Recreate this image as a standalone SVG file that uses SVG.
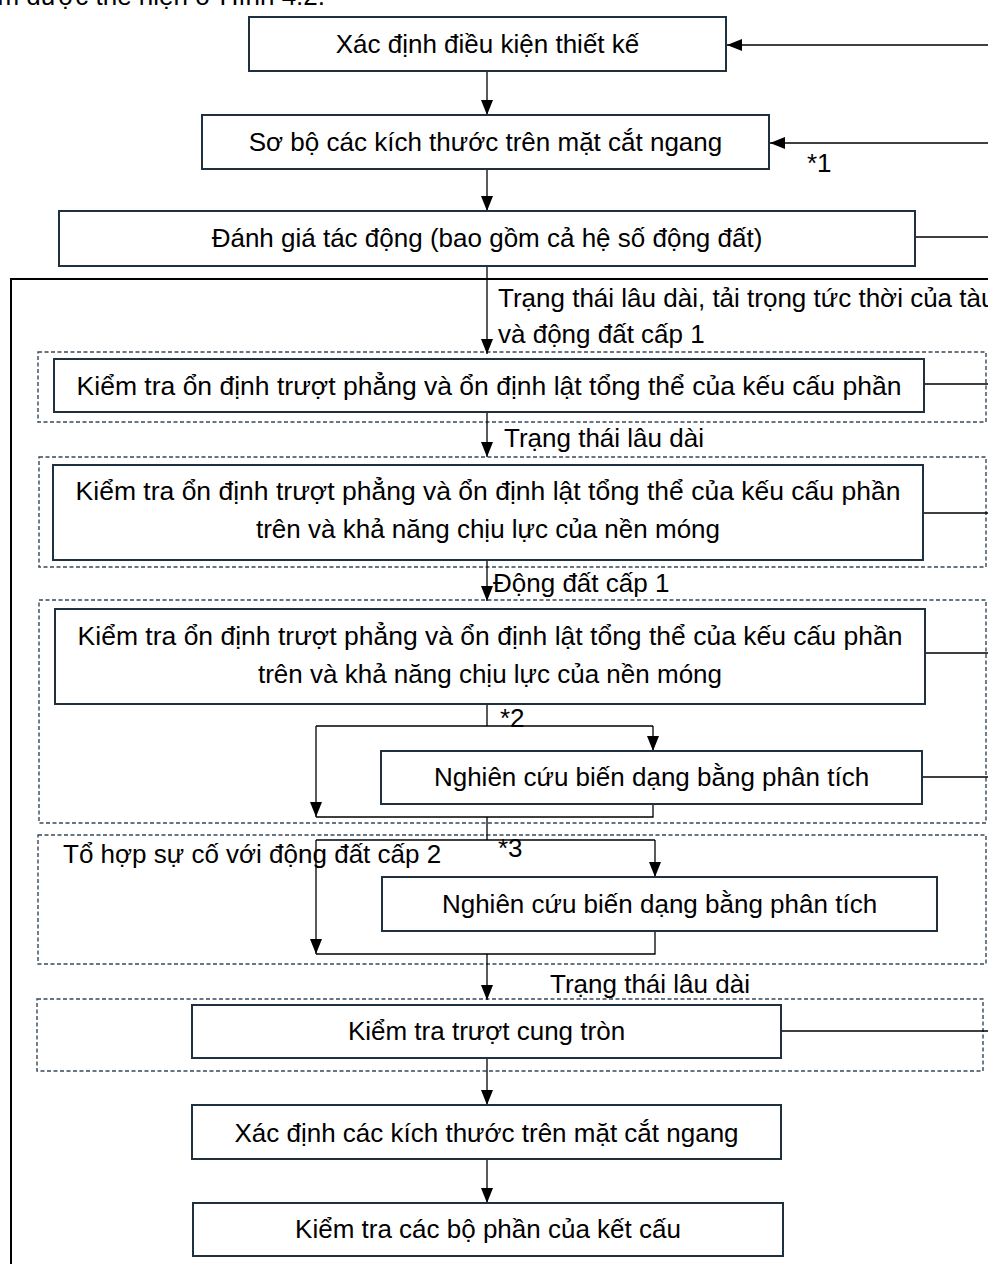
<svg xmlns="http://www.w3.org/2000/svg" width="988" height="1264" viewBox="0 0 988 1264">
<style>
text{font-family:"Liberation Sans",Arial,sans-serif;font-size:26px;fill:#000}
.c{text-anchor:middle}
.w{font-size:26.5px}
.box{fill:#fff;stroke:#1f3040;stroke-width:2}
.dash{fill:none;stroke:#34495a;stroke-width:1.4;stroke-dasharray:4 2.5}
.ln{fill:none;stroke:#000;stroke-width:1.3}
.ar{fill:none;stroke:#000;stroke-width:1.3;marker-end:url(#ah)}
.outer{fill:none;stroke:#000;stroke-width:2}
</style>
<defs>
<marker id="ah" markerUnits="userSpaceOnUse" markerWidth="16" markerHeight="12" refX="15" refY="6" orient="auto">
<path d="M0,0 L15,6 L0,12 z" fill="#000"/>
</marker>
</defs>
<rect width="988" height="1264" fill="#fff"/>
<text x="325" y="5" text-anchor="end">ìm được thể hiện ở Hình 4.2.</text>

<g id="frames">
<path class="outer" d="M11,1264 V279 H988"/>
<rect id="zone1" class="dash" x="38" y="352" width="948" height="70"/>
<rect id="zone2" class="dash" x="39" y="457" width="947" height="110"/>
<rect id="zone3" class="dash" x="39" y="600" width="947" height="223"/>
<rect id="zone4" class="dash" x="38" y="835" width="948" height="129"/>
<rect id="zone5" class="dash" x="37" y="999" width="946" height="72"/>
</g>

<g id="connectors">
<path class="ar" d="M487,71 V115"/>
<path class="ar" d="M487,169 V211"/>
<path class="ar" d="M487,266 V354"/>
<path class="ar" d="M487,412 V457"/>
<path class="ar" d="M487,560 V601"/>
<path class="ln" d="M487,704 V726 M316,726 H653"/>
<path class="ar" d="M653,726 V751"/>
<path class="ar" d="M316,726 V817"/>
<path class="ln" d="M316,817 H653 V804 M487,817 V840 M316,840 H655"/>
<path class="ar" d="M655,840 V877"/>
<path class="ar" d="M316,840 V954"/>
<path class="ln" d="M316,954 H655 V931"/>
<path class="ar" d="M487,954 V1000"/>
<path class="ar" d="M487,1058 V1105"/>
<path class="ar" d="M487,1159 V1203"/>
<path class="ar" d="M988,45 H727"/>
<path class="ar" d="M988,143 H770"/>
<path class="ln" d="M915,237 H988 M924,384 H988 M923,513 H988 M925,653 H988 M922,777 H988 M781,1031 H988"/>
</g>

<g id="labels">
<text x="498" y="307">Trạng thái lâu dài, tải trọng tức thời của tàu</text>
<text x="498" y="343">và động đất cấp 1</text>
<text x="504" y="447">Trạng thái lâu dài</text>
<text x="493" y="592">Động đất cấp 1</text>
<text x="807" y="172">*1</text>
<text x="500" y="727">*2</text>
<text x="498" y="857">*3</text>
<text x="63" y="863">Tổ hợp sự cố với động đất cấp 2</text>
<text x="550" y="993">Trạng thái lâu dài</text>
</g>

<g id="n1"><rect class="box" x="249" y="17" width="477" height="54"/><text class="c" x="487.5" y="53">Xác định điều kiện thiết kế</text></g>
<g id="n2"><rect class="box" x="202" y="115" width="567" height="54"/><text class="c" x="485.5" y="151">Sơ bộ các kích thước trên mặt cắt ngang</text></g>
<g id="n3"><rect class="box" x="59" y="211" width="856" height="55"/><text class="c" x="487" y="247">Đánh giá tác động (bao gồm cả hệ số động đất)</text></g>
<g id="n4"><rect class="box" x="54" y="359" width="870" height="53"/><text class="c w" x="489" y="395">Kiểm tra ổn định trượt phẳng và ổn định lật tổng thể của kếu cấu phần</text></g>
<g id="n5"><rect class="box" x="53" y="465" width="870" height="95"/><text class="c w" x="488" y="500">Kiểm tra ổn định trượt phẳng và ổn định lật tổng thể của kếu cấu phần</text><text class="c" x="488" y="538">trên và khả năng chịu lực của nền móng</text></g>
<g id="n6"><rect class="box" x="55" y="609" width="870" height="95"/><text class="c w" x="490" y="645">Kiểm tra ổn định trượt phẳng và ổn định lật tổng thể của kếu cấu phần</text><text class="c" x="490" y="683">trên và khả năng chịu lực của nền móng</text></g>
<g id="n7"><rect class="box" x="381" y="751" width="541" height="53"/><text class="c" x="651.5" y="786">Nghiên cứu biến dạng bằng phân tích</text></g>
<g id="n8"><rect class="box" x="382" y="877" width="555" height="54"/><text class="c" x="659.5" y="913">Nghiên cứu biến dạng bằng phân tích</text></g>
<g id="n9"><rect class="box" x="192" y="1005" width="589" height="53"/><text class="c" x="486.5" y="1040">Kiểm tra trượt cung tròn</text></g>
<g id="n10"><rect class="box" x="192" y="1105" width="589" height="54"/><text class="c" x="486.5" y="1142">Xác định các kích thước trên mặt cắt ngang</text></g>
<g id="n11"><rect class="box" x="193" y="1203" width="590" height="53"/><text class="c" x="488" y="1238">Kiểm tra các bộ phần của kết cấu</text></g>
</svg>
